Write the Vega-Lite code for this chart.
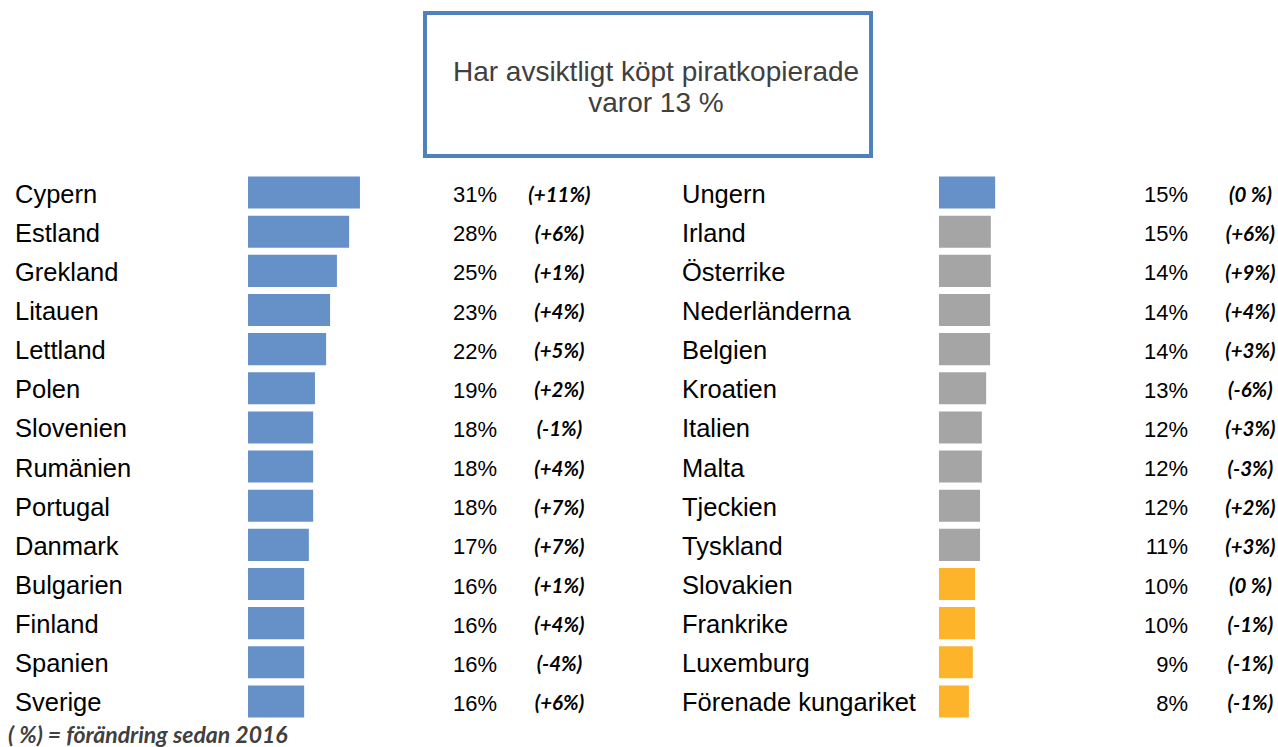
{
  "$schema": "https://vega.github.io/schema/vega-lite/v6.json",
  "padding": {"left": 8, "top": 11, "right": 0, "bottom": 0},
  "autosize": {"type": "pad"},
  "background": "white",
  "config": {"view": {"stroke": null}},
  "title": {
    "text": "( %) = förändring sedan 2016",
    "orient": "bottom",
    "anchor": "start",
    "font": "Lato",
    "fontStyle": "italic",
    "fontWeight": "bold",
    "fontSize": 23,
    "color": "#404040",
    "dx": -7,
    "offset": 4
  },
  "datasets": {
    "rubrik": [{"text": "Har avsiktligt köpt piratkopierade\nvaror 13 %"}],
    "vanster": [
      {"land": "Cypern", "andel": 31.1, "etikett": "31%", "forandring": "(+11%)", "kategori": "hög"},
      {"land": "Estland", "andel": 28.1, "etikett": "28%", "forandring": "(+6%)", "kategori": "hög"},
      {"land": "Grekland", "andel": 24.7, "etikett": "25%", "forandring": "(+1%)", "kategori": "hög"},
      {"land": "Litauen", "andel": 22.8, "etikett": "23%", "forandring": "(+4%)", "kategori": "hög"},
      {"land": "Lettland", "andel": 21.7, "etikett": "22%", "forandring": "(+5%)", "kategori": "hög"},
      {"land": "Polen", "andel": 18.6, "etikett": "19%", "forandring": "(+2%)", "kategori": "hög"},
      {"land": "Slovenien", "andel": 18.1, "etikett": "18%", "forandring": "(-1%)", "kategori": "hög"},
      {"land": "Rumänien", "andel": 18.1, "etikett": "18%", "forandring": "(+4%)", "kategori": "hög"},
      {"land": "Portugal", "andel": 18.1, "etikett": "18%", "forandring": "(+7%)", "kategori": "hög"},
      {"land": "Danmark", "andel": 16.9, "etikett": "17%", "forandring": "(+7%)", "kategori": "hög"},
      {"land": "Bulgarien", "andel": 15.6, "etikett": "16%", "forandring": "(+1%)", "kategori": "hög"},
      {"land": "Finland", "andel": 15.6, "etikett": "16%", "forandring": "(+4%)", "kategori": "hög"},
      {"land": "Spanien", "andel": 15.6, "etikett": "16%", "forandring": "(-4%)", "kategori": "hög"},
      {"land": "Sverige", "andel": 15.6, "etikett": "16%", "forandring": "(+6%)", "kategori": "hög"}
    ],
    "hoger": [
      {"land": "Ungern", "andel": 15.6, "etikett": "15%", "forandring": "(0 %)", "kategori": "hög"},
      {"land": "Irland", "andel": 14.4, "etikett": "15%", "forandring": "(+6%)", "kategori": "medel"},
      {"land": "Österrike", "andel": 14.4, "etikett": "14%", "forandring": "(+9%)", "kategori": "medel"},
      {"land": "Nederländerna", "andel": 14.2, "etikett": "14%", "forandring": "(+4%)", "kategori": "medel"},
      {"land": "Belgien", "andel": 14.2, "etikett": "14%", "forandring": "(+3%)", "kategori": "medel"},
      {"land": "Kroatien", "andel": 13.1, "etikett": "13%", "forandring": "(-6%)", "kategori": "medel"},
      {"land": "Italien", "andel": 11.9, "etikett": "12%", "forandring": "(+3%)", "kategori": "medel"},
      {"land": "Malta", "andel": 11.9, "etikett": "12%", "forandring": "(-3%)", "kategori": "medel"},
      {"land": "Tjeckien", "andel": 11.4, "etikett": "12%", "forandring": "(+2%)", "kategori": "medel"},
      {"land": "Tyskland", "andel": 11.4, "etikett": "11%", "forandring": "(+3%)", "kategori": "medel"},
      {"land": "Slovakien", "andel": 10.0, "etikett": "10%", "forandring": "(0 %)", "kategori": "låg"},
      {"land": "Frankrike", "andel": 10.0, "etikett": "10%", "forandring": "(-1%)", "kategori": "låg"},
      {"land": "Luxemburg", "andel": 9.4, "etikett": "9%", "forandring": "(-1%)", "kategori": "låg"},
      {"land": "Förenade kungariket", "andel": 8.3, "etikett": "8%", "forandring": "(-1%)", "kategori": "låg"}
    ]
  },
  "vconcat": [
    {
      "data": {"name": "rubrik"},
      "width": 446,
      "height": 143,
      "view": {"stroke": "#4F81BD", "strokeWidth": 4},
      "mark": {
        "type": "text",
        "font": "Liberation Sans",
        "fontSize": 28,
        "color": "#404040",
        "lineBreak": "\n",
        "lineHeight": 31,
        "align": "center",
        "baseline": "middle",
        "dx": 8,
        "dy": -12
      },
      "encoding": {"text": {"field": "text", "type": "nominal"}}
    },
    {
      "hconcat": [
        {
          "data": {"name": "vanster"},
          "width": 593,
          "height": 548,
          "encoding": {
            "y": {
              "field": "land",
              "type": "nominal",
              "sort": null,
              "scale": {"paddingInner": 0.18, "paddingOuter": 0.09},
              "axis": null
            }
          },
          "layer": [
            {
              "mark": {"type": "text", "align": "left", "baseline": "middle", "font": "Liberation Sans", "fontSize": 25.5, "color": "#000000", "dy": 2},
              "encoding": {
                "x": {"datum": -64.72, "type": "quantitative", "scale": {"domain": [-64.72, 100], "nice": false, "zero": false}, "axis": null},
                "text": {"field": "land", "type": "nominal"}
              }
            },
            {
              "mark": {"type": "bar"},
              "encoding": {
                "x": {"field": "andel", "type": "quantitative"},
                "color": {"field": "kategori", "type": "nominal", "scale": {"domain": ["hög", "medel", "låg"], "range": ["#6590C8", "#A5A5A5", "#FDB42A"]}, "legend": null}
              }
            },
            {
              "mark": {"type": "text", "align": "right", "baseline": "middle", "font": "Liberation Sans", "fontSize": 22, "color": "#000000", "dy": 2.5},
              "encoding": {
                "x": {"datum": 69.2, "type": "quantitative"},
                "text": {"field": "etikett", "type": "nominal"}
              }
            },
            {
              "mark": {"type": "text", "align": "center", "baseline": "middle", "font": "Lato", "fontStyle": "italic", "fontWeight": "bold", "fontSize": 20.5, "color": "#000000", "dy": 3},
              "encoding": {
                "x": {"datum": 86.5, "type": "quantitative"},
                "text": {"field": "forandring", "type": "nominal"}
              }
            }
          ]
        },
        {
          "data": {"name": "hoger"},
          "width": 601,
          "height": 548,
          "encoding": {
            "y": {
              "field": "land",
              "type": "nominal",
              "sort": null,
              "scale": {"paddingInner": 0.18, "paddingOuter": 0.09},
              "axis": null
            }
          },
          "layer": [
            {
              "mark": {"type": "text", "align": "left", "baseline": "middle", "font": "Liberation Sans", "fontSize": 25.5, "color": "#000000", "dy": 2},
              "encoding": {
                "x": {"datum": -71.39, "type": "quantitative", "scale": {"domain": [-71.39, 95.56], "nice": false, "zero": false}, "axis": null},
                "text": {"field": "land", "type": "nominal"}
              }
            },
            {
              "mark": {"type": "bar"},
              "encoding": {
                "x": {"field": "andel", "type": "quantitative"},
                "color": {"field": "kategori", "type": "nominal", "scale": {"domain": ["hög", "medel", "låg"], "range": ["#6590C8", "#A5A5A5", "#FDB42A"]}, "legend": null}
              }
            },
            {
              "mark": {"type": "text", "align": "right", "baseline": "middle", "font": "Liberation Sans", "fontSize": 22, "color": "#000000", "dy": 2.5},
              "encoding": {
                "x": {"datum": 69.2, "type": "quantitative"},
                "text": {"field": "etikett", "type": "nominal"}
              }
            },
            {
              "mark": {"type": "text", "align": "center", "baseline": "middle", "font": "Lato", "fontStyle": "italic", "fontWeight": "bold", "fontSize": 20.5, "color": "#000000", "dy": 3},
              "encoding": {
                "x": {"datum": 86.5, "type": "quantitative"},
                "text": {"field": "forandring", "type": "nominal"}
              }
            }
          ]
        }
      ],
      "spacing": 74
    }
  ],
  "spacing": 15,
  "center": true
}
